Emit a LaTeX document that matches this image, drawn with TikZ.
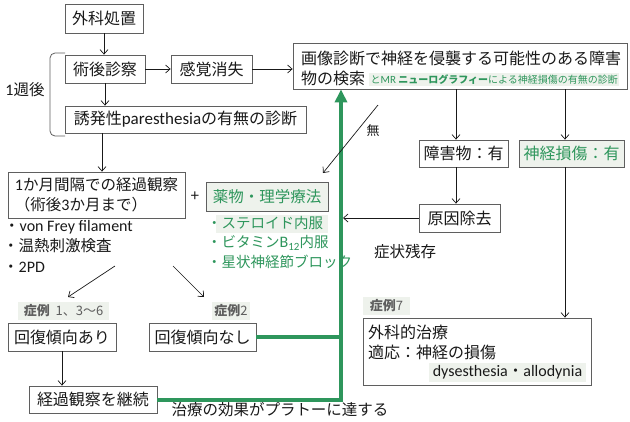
\documentclass[tikz,border=0pt]{standalone}
\usepackage{fontspec}
\setmainfont{Noto Sans CJK JP}
\newfontfamily\lat{Carlito}
\usetikzlibrary{arrows.meta}
\definecolor{gr}{RGB}{46,150,92}
\definecolor{lbg}{RGB}{238,242,236}
\definecolor{bd}{RGB}{95,95,95}
\definecolor{tx}{RGB}{25,25,25}
\newcommand{\fs}[1]{\fontsize{#1}{#1}\selectfont}
\begin{document}
\begin{tikzpicture}[x=1pt,y=-1pt,
  box/.style={draw=bd, line width=0.8pt, fill=white, inner sep=0pt, text=tx, font=\fs{16}},
  gbox/.style={box, fill=lbg, text=gr},
  arr/.style={draw=tx, line width=0.7pt, -{Straight Barb[length=4.5pt,width=8pt]}},
  gline/.style={draw=gr, line width=4pt},
  lbl/.style={inner sep=0pt, text=tx, font=\fs{15.5}},
  glbl/.style={inner sep=0pt, text=gr, font=\fs{14.5}, anchor=west},
  case/.style={fill=lbg, inner sep=0pt, minimum height=18pt, text=tx!70, font=\fs{13}}
]
\fill[white] (0,0) rectangle (630,421);
\useasboundingbox (0,0) rectangle (630,421);

% left column
\node[box, minimum width=78pt, minimum height=29pt] (n1) at (104,18.5) {外科処置};
\node[box, minimum width=80pt, minimum height=28pt] (n2) at (105,69) {術後診察};
\node[box, minimum width=81pt, minimum height=28pt] (n3) at (211.5,69) {感覚消失};
\node[box, minimum width=241pt, minimum height=27pt] (n5) at (185.5,119.5) {誘発性{\lat\fs{17}paresthesia}の有無の診断};
\draw[draw=bd, line width=0.8pt, rounded corners=5pt] (65,53) -- (50,53) -- (50,136) -- (65,136);
\node[lbl] (w1) at (25,90) {{\lat\fs{16}1}週後};

% big box
\node[box, minimum width=334pt, minimum height=46pt] (n4) at (460,66) {};
\node[lbl, font=\fs{16}, anchor=base west] (t4a) at (301,64) {画像診断で神経を侵襲する可能性のある障害};
\node[lbl, font=\fs{16}, anchor=base west] (t4b) at (301,84) {物の検索};
\node[fill=lbg, inner sep=1.5pt, text=gr, font=\fs{10}, anchor=base west] (t4c) at (369,83) {と{\lat\fs{11}MR} {\bfseries ニューログラフィー}による神経損傷の有無の診断};

% observation
\node[box, minimum width=177pt, minimum height=46pt, align=left, font=\fontsize{15.5}{20}\selectfont] (n6) at (96.5,195) {{\lat\fs{16}1}か月間隔での経過観察\\（術後{\lat\fs{16}3}か月まで）};
\node[lbl, anchor=west] (b1) at (4,227) {・{\lat\fs{16}von Frey filament}};
\node[lbl, anchor=west] (b2) at (3,246) {・温熱刺激検査};
\node[lbl, anchor=west] (b3) at (3,267) {・{\lat\fs{16}2PD}};

\node[lbl] (plus) at (195,197) {+};
\node[gbox, minimum width=122pt, minimum height=29pt, font=\fs{15.5}] (n7) at (267,196.5) {薬物・理学療法};
\fill[lbg] (216,215) rectangle (328,233);
\node[glbl] (g1) at (207,223) {・ステロイド内服};
\node[glbl] (g2) at (207,243) {・ビタミン{\lat\fs{16}B}\raisebox{-2.5pt}{\lat\fs{11}12}内服};
\node[glbl] (g3) at (207,262) {・星状神経節ブロック};

\coordinate (d1s) at (115,266); \coordinate (d1e) at (68,297);
\coordinate (d2s) at (173,266); \coordinate (d2e) at (204,297);
\draw[arr] (d1s) -- (d1e);
\draw[arr] (d2s) -- (d2e);

% cases
\node[case, minimum width=91pt] (s1) at (63.5,311) {{\bfseries 症例}\ \ 1、3〜6};
\node[case, minimum width=38pt] (s2) at (231,311) {{\bfseries 症例}2};
\node[case, minimum width=47pt] (s7) at (386.5,306) {{\bfseries 症例}7};

\node[box, minimum width=108pt, minimum height=28pt] (n8) at (62,337) {回復傾向あり};
\node[box, minimum width=107pt, minimum height=28pt] (n9) at (202.5,337) {回復傾向なし};
\node[box, minimum width=128pt, minimum height=27pt] (n10) at (93,399.5) {経過観察を継続};
\node[lbl] (pl) at (280,410) {治療の効果がプラトーに達する};

% right side
\node[box, minimum width=89pt, minimum height=27pt] (n11) at (463.5,153.5) {障害物：有};
\node[gbox, minimum width=105pt, minimum height=27pt] (n12) at (571.5,153.5) {神経損傷：有};
\node[box, minimum width=81pt, minimum height=28pt] (n13) at (459.5,218) {原因除去};
\node[lbl] (zz) at (405,252) {症状残存};
\node[box, minimum width=228pt, minimum height=67pt] (n14) at (477,351.5) {};
\node[lbl, font=\fs{16}, anchor=west] (t14a) at (368,332) {外科的治療};
\node[lbl, font=\fs{16}, anchor=west] (t14b) at (368,352) {適応：神経の損傷};
\node[fill=lbg, minimum width=157pt, minimum height=19pt, inner sep=0pt, text=tx, font=\fs{15.5}] (t14c) at (507.5,372.5) {{\lat\fs{16}dysesthesia}・{\lat\fs{16}allodynia}};

% connectors
\coordinate (c5) at (102,0);
\coordinate (c11) at (456,0);
\coordinate (c12) at (565,0);
\coordinate (gv) at (341,0);
\coordinate (gx) at (343,0);
\draw[arr] (n1.south) -- (n1.south |- n2.north);
\draw[arr] (n2.east) -- (n3.west);
\draw[arr] (n3.east) -- (n3.east -| n4.west);
\draw[arr] (n2.south) -- (n2.south |- n5.north);
\draw[arr] (n5.south -| c5) -- (n6.north -| c5);
\draw[arr] (n8.south) -- (n8.south |- n10.north);
\draw[arr] (n4.south -| c11) -- (n11.north -| c11);
\draw[arr] (n4.south -| c12) -- (n12.north -| c12);
\draw[arr] (n11.south -| c11) -- (n13.north -| c11);
\draw[arr] (n12.south -| c12) -- (n14.north -| c12);

\draw[gline] (n9.east) -- (n9.east -| gv);
\draw[gline, -{Triangle[length=13pt,width=12pt]}] (n10.east) -- (n10.east -| gv) -- (n4.south -| gv);
\draw[arr] (n13.west) -- (n13.west -| gx);

\coordinate (m1) at (378,105); \coordinate (m2) at (323,173);
\draw[arr] (m1) -- (m2);
\node[lbl, font=\fs{13}] (mu) at (373,131) {無};
\end{tikzpicture}
\end{document}
